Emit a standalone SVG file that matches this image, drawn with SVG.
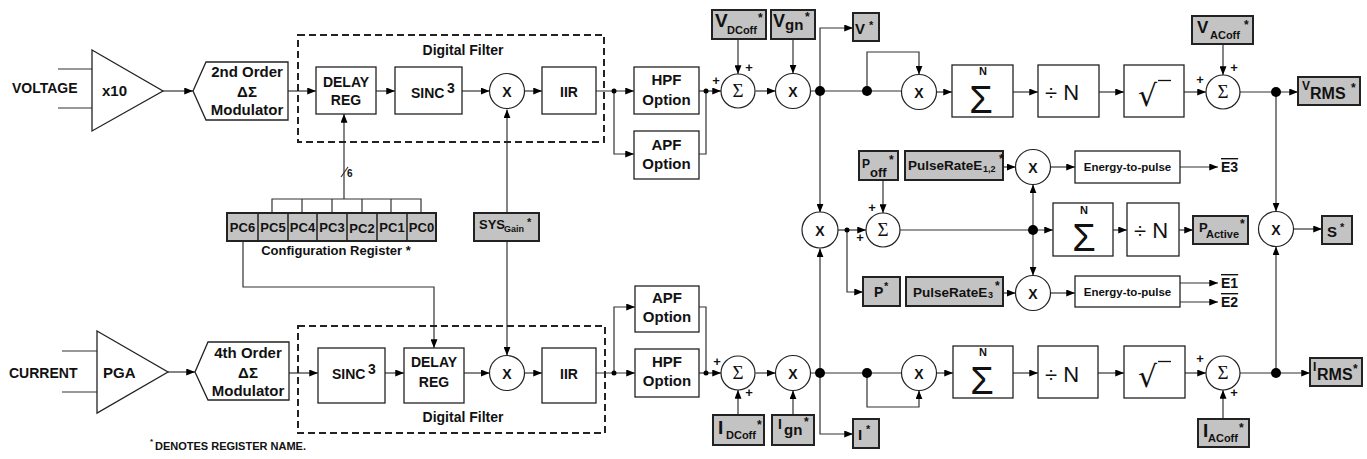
<svg xmlns="http://www.w3.org/2000/svg" width="1367" height="459" viewBox="0 0 1367 459">
<defs>
<marker id="ah" viewBox="0 0 10 8" refX="10" refY="4" markerWidth="9" markerHeight="7" markerUnits="userSpaceOnUse" orient="auto"><path d="M0,0L10,4L0,8z" fill="#000"/></marker>
<style>
.ln{stroke:#333;stroke-width:1.2;fill:none}
.ar{stroke:#333;stroke-width:1.2;fill:none;marker-end:url(#ah)}
.box{fill:#fff;stroke:#222;stroke-width:1.3}
.reg{fill:#c3c3c3;stroke:#222;stroke-width:2}
.circ{fill:#fff;stroke:#222;stroke-width:1.2}
.dash{fill:none;stroke:#222;stroke-width:2;stroke-dasharray:7 4}
.dot{fill:#000}
text{font-family:"Liberation Sans",Arial,sans-serif;font-weight:bold;fill:#111}
.c{text-anchor:middle}
.b15{font-size:15px}
.b14{font-size:14px}
.b13{font-size:13px}
.sig{font-family:"Liberation Serif","Times New Roman",serif;font-weight:normal;font-size:19px}
.bigS{font-weight:normal;font-size:38px}
.divn{font-weight:normal;font-size:22px}
.rad{font-family:"DejaVu Sans",sans-serif;font-weight:normal;font-size:30px}
.pl{font-size:13px}
.ov{text-decoration:overline;font-size:14px}
.ep{font-size:11.5px}
</style>
</defs>

<g id="connectors">
<path class="ln" d="M58,69H92M58,108H92"/>
<path class="ar" d="M163,91H193"/>
<path class="ar" d="M288,91H316"/>
<path class="ar" d="M376,91H395"/>
<path class="ar" d="M462,91H489.5"/>
<path class="ar" d="M524.5,91H542"/>
<path class="ar" d="M596,91H634"/>
<path class="ar" d="M614,91V154H634"/>
<path class="ln" d="M699,154H706V91"/>
<path class="ar" d="M699,91H721"/>
<path class="ar" d="M738,39V74"/>
<path class="ar" d="M755.5,91H775.5"/>
<path class="ar" d="M793,39V73.5"/>
<path class="ln" d="M810.5,91H901.5"/>
<path class="ar" d="M820,91V28H853"/>
<path class="ar" d="M820,91V212.5"/>
<path class="ar" d="M867,91V52H919V74.5"/>
<path class="ar" d="M936.5,92H952"/>
<path class="ar" d="M1013,92H1038"/>
<path class="ar" d="M1099,92H1124"/>
<path class="ar" d="M1184,92H1206"/>
<path class="ar" d="M1223,44V75"/>
<path class="ar" d="M1240,92H1298"/>
<path class="ar" d="M1276,92V211.5"/>
<path class="ar" d="M344,199V114"/>
<path class="ln" d="M272,213V199H421V213M302,199V213M332,199V213M362,199V213M391,199V213"/>
<path class="ln" d="M341,177L348,167"/>
<path class="ar" d="M243,241V287H434V348"/>
<path class="ar" d="M507,213V109.5"/>
<path class="ar" d="M507,241V355.5"/>
<path class="ln" d="M62,351H97M62,392H97"/>
<path class="ar" d="M168,372H195"/>
<path class="ar" d="M289,373H318"/>
<path class="ar" d="M385,373H404"/>
<path class="ar" d="M464,373H489.5"/>
<path class="ar" d="M524.5,373H542"/>
<path class="ar" d="M596,373H635"/>
<path class="ar" d="M614,373V307H635"/>
<path class="ln" d="M699,307H706V373"/>
<path class="ar" d="M699,373H721"/>
<path class="ar" d="M738,415V390"/>
<path class="ar" d="M755.5,373H775.5"/>
<path class="ar" d="M793,415V390.5"/>
<path class="ln" d="M810.5,373H901.5"/>
<path class="ar" d="M820,373V434H853"/>
<path class="ar" d="M820,373V248.5"/>
<path class="ar" d="M867,373V407H919V390.5"/>
<path class="ar" d="M936.5,373H953"/>
<path class="ar" d="M1013,373H1038"/>
<path class="ar" d="M1098,373H1124"/>
<path class="ar" d="M1185,373H1206"/>
<path class="ar" d="M1223,419V390"/>
<path class="ar" d="M1240,373H1310"/>
<path class="ar" d="M1276,373V246.5"/>
<path class="ar" d="M837.5,230H866"/>
<path class="ar" d="M847,230V292H863"/>
<path class="ar" d="M883,180V213"/>
<path class="ar" d="M900,230H1053"/>
<path class="ar" d="M1033,230V184.5"/>
<path class="ar" d="M1033,230V275.5"/>
<path class="ar" d="M1003,167H1015.5"/>
<path class="ar" d="M1050.5,167H1075"/>
<path class="ar" d="M1180,167H1218"/>
<path class="ar" d="M1003,293H1015.5"/>
<path class="ar" d="M1050.5,293H1075"/>
<path class="ar" d="M1180,283H1218"/>
<path class="ar" d="M1180,302H1218"/>
<path class="ar" d="M1113,230H1127"/>
<path class="ar" d="M1179,230H1193"/>
<path class="ar" d="M1293.5,229H1322"/>
<circle class="dot" cx="614" cy="91" r="2.5"/>
<circle class="dot" cx="706" cy="91" r="2.5"/>
<circle class="dot" cx="820" cy="91" r="5"/>
<circle class="dot" cx="867" cy="91" r="5"/>
<circle class="dot" cx="1276" cy="92" r="5"/>
<circle class="dot" cx="614" cy="373" r="2.5"/>
<circle class="dot" cx="706" cy="373" r="2.5"/>
<circle class="dot" cx="820" cy="373" r="5"/>
<circle class="dot" cx="867" cy="373" r="5"/>
<circle class="dot" cx="1276" cy="373" r="5"/>
<circle class="dot" cx="847" cy="230" r="2.5"/>
<circle class="dot" cx="1033" cy="230" r="5"/>
<text x="347" y="177" font-size="10">6</text>
</g>

<g id="voltage-input">
<text x="12" y="93" class="b14">VOLTAGE</text>
<polygon class="box" points="92,50 163,91 92,131"/>
<text x="102" y="96" class="b15">x10</text>
</g>
<g id="current-input">
<text x="9" y="378" class="b14">CURRENT</text>
<polygon class="box" points="97,331 168,372 97,413"/>
<text x="103" y="378" class="b15">PGA</text>
</g>

<g id="mod2">
<polygon class="box" points="193,91 206,62 288,62 288,120 206,120"/>
<text x="247" y="77" class="c b15">2nd Order</text>
<text x="247" y="97" class="c b15">ΔΣ</text>
<text x="247" y="115" class="c b15">Modulator</text>
</g>
<g id="mod4">
<polygon class="box" points="195,372 208,342 289,342 289,400 208,400"/>
<text x="248" y="358" class="c b15">4th Order</text>
<text x="248" y="378" class="c b15">ΔΣ</text>
<text x="248" y="396" class="c b15">Modulator</text>
</g>

<g id="filter-v">
<rect class="dash" x="298" y="35" width="306" height="107"/>
<text x="463" y="55" class="c b14">Digital Filter</text>
</g>
<g id="delay-v"><rect class="box" x="316" y="67" width="60" height="47"/><text x="346" y="87" class="c b14">DELAY</text><text x="346" y="105" class="c b14">REG</text></g>
<g id="sinc-v"><rect class="box" x="395" y="67" width="67" height="47"/><text x="411" y="98" class="b14">SINC</text><text x="447" y="93" class="b14">3</text></g>
<g id="mul-v"><circle class="circ" cx="507" cy="91" r="17.5"/><text x="507" y="97" class="c b14">X</text></g>
<g id="iir-v"><rect class="box" x="542" y="67" width="54" height="47"/><text x="569" y="97" class="c b14">IIR</text></g>

<g id="filter-i">
<rect class="dash" x="298" y="326" width="307" height="107"/>
<text x="463" y="422" class="c b14">Digital Filter</text>
</g>
<g id="sinc-i"><rect class="box" x="318" y="348" width="67" height="55"/><text x="332" y="379" class="b14">SINC</text><text x="368" y="374" class="b14">3</text></g>
<g id="delay-i"><rect class="box" x="404" y="348" width="60" height="55"/><text x="434" y="367" class="c b14">DELAY</text><text x="434" y="387" class="c b14">REG</text></g>
<g id="mul-i"><circle class="circ" cx="507" cy="373" r="17.5"/><text x="507" y="379" class="c b14">X</text></g>
<g id="iir-i"><rect class="box" x="542" y="348" width="54" height="55"/><text x="569" y="379" class="c b14">IIR</text></g>

<g id="config-register">
<rect class="reg" x="227" y="213" width="209" height="28"/>
<path class="ln" d="M258,213V241M288,213V241M317,213V241M347,213V241M377,213V241M407,213V241" style="stroke:#222;stroke-width:1.5"/>
<text x="242.5" y="232" class="c b13">PC6</text>
<text x="273" y="232" class="c b13">PC5</text>
<text x="302.5" y="232" class="c b13">PC4</text>
<text x="332" y="232" class="c b13">PC3</text>
<text x="362" y="233" class="c b13">PC2</text>
<text x="392" y="232" class="c b13">PC1</text>
<text x="421.5" y="232" class="c b13">PC0</text>
<text x="336" y="255" class="c b13">Configuration Register *</text>
</g>
<g id="sysgain">
<rect class="reg" x="474" y="213" width="65" height="28"/>
<text x="479" y="229" class="b13">SYS</text><text x="504" y="232" font-size="9">Gain</text><text x="527" y="226" font-size="11">*</text>
</g>

<g id="hpf-v"><rect class="box" x="634" y="67" width="65" height="47"/><text x="666.5" y="85" class="c b15">HPF</text><text x="666.5" y="105" class="c b15">Option</text></g>
<g id="apf-v"><rect class="box" x="634" y="131" width="65" height="48"/><text x="666.5" y="150" class="c b15">APF</text><text x="666.5" y="169" class="c b15">Option</text></g>
<g id="apf-i"><rect class="box" x="635" y="286" width="64" height="46"/><text x="667" y="303" class="c b15">APF</text><text x="667" y="322" class="c b15">Option</text></g>
<g id="hpf-i"><rect class="box" x="635" y="349" width="64" height="48"/><text x="667" y="367" class="c b15">HPF</text><text x="667" y="386" class="c b15">Option</text></g>

<g id="sum-vdc"><circle class="circ" cx="738" cy="91" r="17"/><text x="738" y="97" class="c sig">Σ</text><text x="716" y="85" class="c pl">+</text><text x="749" y="72" class="c pl">+</text></g>
<g id="vdcoff"><rect class="reg" x="712" y="10" width="54" height="29"/><text x="715" y="27" font-size="19">V</text><text x="727" y="34" font-size="11">DCoff</text><text x="758" y="22" font-size="12">*</text></g>
<g id="mul-vgn"><circle class="circ" cx="793" cy="91" r="17.5"/><text x="793" y="97" class="c b14">X</text></g>
<g id="vgn"><rect class="reg" x="771" y="10" width="44" height="29"/><text x="773" y="27" font-size="18">V</text><text x="785" y="30" font-size="15">gn</text><text x="805" y="21" font-size="12">*</text></g>
<g id="vstar"><rect class="reg" x="853" y="13" width="26" height="28"/><text x="855" y="34" font-size="15">V</text><text x="869" y="29" font-size="11">*</text></g>

<g id="sum-idc"><circle class="circ" cx="738" cy="373" r="17"/><text x="738" y="379" class="c sig">Σ</text><text x="717" y="366" class="c pl">+</text><text x="749" y="397" class="c pl">+</text></g>
<g id="idcoff"><rect class="reg" x="713" y="415" width="51" height="30"/><text x="718" y="434" font-size="19">I</text><text x="726" y="439" font-size="11">DCoff</text><text x="757" y="429" font-size="12">*</text></g>
<g id="mul-ign"><circle class="circ" cx="793" cy="373" r="17.5"/><text x="793" y="379" class="c b14">X</text></g>
<g id="ign"><rect class="reg" x="772" y="415" width="42" height="30"/><text x="778" y="429" font-size="14">I</text><text x="784" y="435" font-size="15">gn</text><text x="804" y="426" font-size="12">*</text></g>
<g id="istar"><rect class="reg" x="853" y="419" width="26" height="29"/><text x="858" y="440" font-size="15">I</text><text x="866" y="433" font-size="11">*</text></g>

<g id="mul-sq-v"><circle class="circ" cx="919" cy="92" r="17.5"/><text x="919" y="98" class="c b14">X</text></g>
<g id="acc-v"><rect class="box" x="952" y="65" width="61" height="52"/><text x="983" y="75" class="c" font-size="11">N</text><text x="981" y="113" class="c bigS">Σ</text></g>
<g id="divn-v"><rect class="box" x="1038" y="65" width="61" height="52"/><text x="1045" y="100" class="divn">÷ N</text></g>
<g id="sqrt-v"><rect class="box" x="1124" y="65" width="60" height="52"/><text x="1138" y="106" class="rad">√</text><path class="ln" d="M1158,80.5H1171" style="stroke:#111;stroke-width:1.3"/></g>
<g id="sum-vac"><circle class="circ" cx="1223" cy="92" r="17"/><text x="1223" y="98" class="c sig">Σ</text><text x="1200" y="84" class="c pl">+</text><text x="1234" y="72" class="c pl">+</text></g>
<g id="vacoff"><rect class="reg" x="1192" y="16" width="61" height="28"/><text x="1197" y="33" font-size="17">V</text><text x="1210" y="39" font-size="11">ACoff</text><text x="1244" y="29" font-size="12">*</text></g>
<g id="vrms"><rect class="reg" x="1298" y="77" width="62" height="28"/><text x="1302" y="90" font-size="12">V</text><text x="1310" y="99" font-size="16">RMS</text><text x="1351" y="92" font-size="12">*</text></g>

<g id="mul-sq-i"><circle class="circ" cx="919" cy="373" r="17.5"/><text x="919" y="379" class="c b14">X</text></g>
<g id="acc-i"><rect class="box" x="953" y="346" width="60" height="52"/><text x="983" y="356" class="c" font-size="11">N</text><text x="982" y="394" class="c bigS">Σ</text></g>
<g id="divn-i"><rect class="box" x="1038" y="346" width="60" height="52"/><text x="1045" y="382" class="divn">÷ N</text></g>
<g id="sqrt-i"><rect class="box" x="1124" y="346" width="61" height="52"/><text x="1138" y="387" class="rad">√</text><path class="ln" d="M1158,361.5H1171" style="stroke:#111;stroke-width:1.3"/></g>
<g id="sum-iac"><circle class="circ" cx="1223" cy="373" r="17"/><text x="1223" y="379" class="c sig">Σ</text><text x="1200" y="363" class="c pl">+</text><text x="1234" y="397" class="c pl">+</text></g>
<g id="iacoff"><rect class="reg" x="1198" y="419" width="51" height="28"/><text x="1203" y="437" font-size="19">I</text><text x="1208" y="442" font-size="11">ACoff</text><text x="1239" y="432" font-size="12">*</text></g>
<g id="irms"><rect class="reg" x="1310" y="358" width="52" height="28"/><text x="1313" y="371" font-size="12">I</text><text x="1317" y="380" font-size="16">RMS</text><text x="1353" y="373" font-size="12">*</text></g>

<g id="mul-p"><circle class="circ" cx="820" cy="230" r="18"/><text x="820" y="236" class="c b14">X</text></g>
<g id="sum-poff"><circle class="circ" cx="883" cy="230" r="17"/><text x="883" y="236" class="c sig">Σ</text><text x="872" y="212" class="c pl">+</text><text x="860" y="242" class="c pl">+</text></g>
<g id="poff"><rect class="reg" x="859" y="151" width="39" height="29"/><text x="862" y="168" font-size="12">P</text><text x="870" y="177" font-size="13">off</text><text x="889" y="164" font-size="12">*</text></g>
<g id="pstar"><rect class="reg" x="863" y="277" width="37" height="29"/><text x="874" y="297" font-size="14">P</text><text x="884" y="290" font-size="11">*</text></g>
<g id="pr12"><rect class="reg" x="905" y="151" width="98" height="29"/><text x="908" y="170" font-size="13.5">PulseRateE</text><text x="983" y="172" font-size="9">1,2</text><text x="999" y="163" font-size="12">*</text></g>
<g id="pr3"><rect class="reg" x="906" y="277" width="97" height="29"/><text x="913" y="297" font-size="13.5">PulseRateE</text><text x="988" y="298" font-size="9">3</text><text x="995" y="290" font-size="12">*</text></g>
<g id="mul-e12"><circle class="circ" cx="1033" cy="167" r="17.5"/><text x="1033" y="173" class="c b14">X</text></g>
<g id="mul-e3"><circle class="circ" cx="1033" cy="293" r="17.5"/><text x="1033" y="299" class="c b14">X</text></g>
<g id="etp-top"><rect class="box" x="1075" y="151" width="105" height="32"/><text x="1127.5" y="171" class="c ep">Energy-to-pulse</text></g>
<g id="etp-bot"><rect class="box" x="1075" y="276" width="105" height="31"/><text x="1127.5" y="296" class="c ep">Energy-to-pulse</text></g>
<g id="e-outputs"><text x="1221" y="172" class="ov">E3</text><text x="1221" y="288" class="ov">E1</text><text x="1221" y="307" class="ov">E2</text></g>
<g id="acc-p"><rect class="box" x="1053" y="203" width="60" height="53"/><text x="1084" y="214" class="c" font-size="11">N</text><text x="1084" y="251" class="c bigS">Σ</text></g>
<g id="divn-p"><rect class="box" x="1127" y="203" width="52" height="53"/><text x="1134" y="238" class="divn">÷ N</text></g>
<g id="pactive"><rect class="reg" x="1193" y="216" width="55" height="28"/><text x="1199" y="232" font-size="13">P</text><text x="1206" y="238" font-size="11">Active</text><text x="1240" y="228" font-size="12">*</text></g>
<g id="mul-s"><circle class="circ" cx="1276" cy="229" r="17.5"/><text x="1276" y="235" class="c b14">X</text></g>
<g id="sstar"><rect class="reg" x="1322" y="216" width="30" height="28"/><text x="1327" y="237" font-size="15">S</text><text x="1340" y="231" font-size="11">*</text></g>

<g id="note"><text x="150" y="444" font-size="8">*</text><text x="155" y="450" font-size="11">DENOTES REGISTER NAME.</text></g>
</svg>
